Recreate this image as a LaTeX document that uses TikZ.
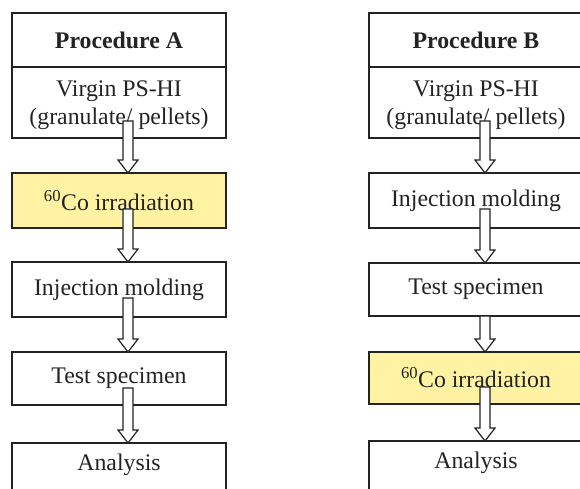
\documentclass[tikz,border=0pt]{standalone}
\usepackage{fontspec}
\setmainfont{Liberation Serif}
\usetikzlibrary{calc}
\definecolor{boxyellow}{RGB}{255,243,163}
\definecolor{inkgray}{RGB}{35,35,35}
\tikzset{
  stepbox/.style={draw=inkgray, line width=1.6pt, minimum width=214pt, inner sep=0pt, outer sep=0pt,
    font=\fontsize{23.8}{28}\selectfont, text=inkgray, align=center},
  hotbox/.style={stepbox, fill=boxyellow},
  blockarr/.style={draw=inkgray, fill=white, line width=1.2pt, line join=miter},
}
\newcommand\blkarrow[3]{%
  \draw[blockarr] let \p1=($(#1.south)+(9pt,#3)$), \p2=($(#2.north)+(9pt,0pt)$) in
    (\x1-5pt,\y1) -- (\x1-5pt,\y2+13pt) -- (\x1-10pt,\y2+13pt) -- (\x1,\y2)
    -- (\x1+10pt,\y2+13pt) -- (\x1+5pt,\y2+13pt) -- (\x1+5pt,\y1) -- cycle;}
\begin{document}
\begin{tikzpicture}[x=1pt,y=-1pt]
\useasboundingbox (0,0) rectangle (580,488);
\fill[white] (0,0) rectangle (580,488);
\clip (0,0) rectangle (580,488);
% Procedure A
\node[stepbox, minimum height=54pt] (tA) at (119,40) {\textbf{Procedure A}};
\node[stepbox, minimum height=71pt, text height=50pt] (vA) at (119,102.5) {Virgin PS-HI\\(granulate/ pellets)};
\node[hotbox, minimum height=55pt] (cA) at (119,200.5) {\textsuperscript{60}Co irradiation};
\node[stepbox, minimum height=55pt] (iA) at (119,289.5) {Injection molding};
\node[stepbox, minimum height=53pt] (sA) at (119,378.5) {Test specimen};
\node[stepbox, minimum height=50pt, text depth=11pt] (aA) at (119,468) {Analysis};
% Procedure B
\node[stepbox, minimum height=54pt] (tB) at (476,40) {\textbf{Procedure B}};
\node[stepbox, minimum height=71pt, text height=50pt] (vB) at (476,102.5) {Virgin PS-HI\\(granulate/ pellets)};
\node[stepbox, minimum height=55pt] (iB) at (476,200.5) {Injection molding};
\node[stepbox, minimum height=53pt] (sB) at (476,289.5) {Test specimen};
\node[hotbox, minimum height=52pt] (cB) at (476,378) {\textsuperscript{60}Co irradiation};
\node[stepbox, minimum height=50pt, text depth=11pt] (aB) at (476,466) {Analysis};
% arrows
\blkarrow{vA}{cA}{17pt}
\blkarrow{cA}{iA}{19pt}
\blkarrow{iA}{sA}{19pt}
\blkarrow{sA}{aA}{17pt}
\blkarrow{vB}{iB}{17pt}
\blkarrow{iB}{sB}{19pt}
\blkarrow{sB}{cB}{0pt}
\blkarrow{cB}{aB}{17pt}
\end{tikzpicture}
\end{document}
